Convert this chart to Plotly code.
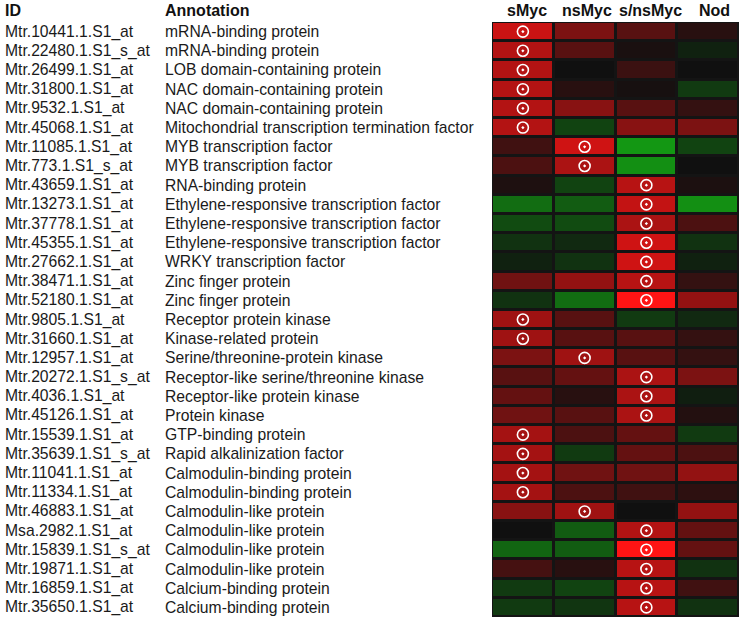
import plotly.graph_objects as go

ids = ["Mtr.10441.1.S1_at", "Mtr.22480.1.S1_s_at", "Mtr.26499.1.S1_at", "Mtr.31800.1.S1_at",
       "Mtr.9532.1.S1_at", "Mtr.45068.1.S1_at", "Mtr.11085.1.S1_at", "Mtr.773.1.S1_s_at",
       "Mtr.43659.1.S1_at", "Mtr.13273.1.S1_at", "Mtr.37778.1.S1_at", "Mtr.45355.1.S1_at",
       "Mtr.27662.1.S1_at", "Mtr.38471.1.S1_at", "Mtr.52180.1.S1_at", "Mtr.9805.1.S1_at",
       "Mtr.31660.1.S1_at", "Mtr.12957.1.S1_at", "Mtr.20272.1.S1_s_at", "Mtr.4036.1.S1_at",
       "Mtr.45126.1.S1_at", "Mtr.15539.1.S1_at", "Mtr.35639.1.S1_s_at", "Mtr.11041.1.S1_at",
       "Mtr.11334.1.S1_at", "Mtr.46883.1.S1_at", "Msa.2982.1.S1_at", "Mtr.15839.1.S1_s_at",
       "Mtr.19871.1.S1_at", "Mtr.16859.1.S1_at", "Mtr.35650.1.S1_at"]

annotations = ["mRNA-binding protein", "mRNA-binding protein", "LOB domain-containing protein",
               "NAC domain-containing protein", "NAC domain-containing protein",
               "Mitochondrial transcription termination factor", "MYB transcription factor",
               "MYB transcription factor", "RNA-binding protein",
               "Ethylene-responsive transcription factor", "Ethylene-responsive transcription factor",
               "Ethylene-responsive transcription factor", "WRKY transcription factor",
               "Zinc finger protein", "Zinc finger protein", "Receptor protein kinase",
               "Kinase-related protein", "Serine/threonine-protein kinase",
               "Receptor-like serine/threonine kinase", "Receptor-like protein kinase",
               "Protein kinase", "GTP-binding protein", "Rapid alkalinization factor",
               "Calmodulin-binding protein", "Calmodulin-binding protein", "Calmodulin-like protein",
               "Calmodulin-like protein", "Calmodulin-like protein", "Calmodulin-like protein",
               "Calcium-binding protein", "Calcium-binding protein"]

conditions = ["sMyc", "nsMyc", "s/nsMyc", "Nod"]

# relative expression (red = up, green = down)
smyc = [0.78, 0.68, 0.68, 0.68, 0.68, 0.68, 0.2, 0.25, 0.06, -0.55, -0.35, -0.2, -0.1, 0.4, -0.2,
        0.6, 0.6, 0.45, 0.3, 0.35, 0.4, 0.62, 0.62, 0.62, 0.62, 0.5, 0.0, -0.5, 0.22, -0.25, -0.25]
nsmyc = [0.45, 0.3, 0.0, 0.1, 0.5, -0.3, 0.8, 0.65, -0.3, -0.45, -0.35, -0.15, -0.2, 0.55, -0.55,
         0.3, 0.3, 0.6, 0.35, 0.1, 0.3, 0.25, -0.25, 0.4, 0.25, 0.6, -0.45, -0.45, 0.1, -0.3, -0.22]
snsmyc = [0.3, 0.04, 0.18, 0.03, 0.3, 0.5, -0.8, -0.75, 0.7, 0.75, 0.65, 0.8, 0.8, 0.7, 1.0,
          -0.25, 0.3, 0.3, 0.65, 0.65, 0.65, 0.35, 0.35, 0.4, 0.2, 0.0, 0.68, 1.0, 0.7, 0.7, 0.7]
nod = [0.1, -0.1, 0.0, -0.25, 0.15, 0.45, -0.3, 0.0, 0.05, -0.75, 0.25, -0.2, -0.1, 0.15, 0.55,
       -0.15, 0.15, 0.15, 0.45, -0.08, 0.08, -0.25, 0.25, 0.55, 0.12, 0.55, 0.35, 0.35, -0.2, 0.2, -0.2]

# significant cells: (row, column)
sig_rows = [0, 1, 2, 3, 4, 5, 6, 7, 8, 9, 10, 11, 12, 13, 14, 15, 16, 17, 18, 19, 20, 21, 22, 23,
            24, 25, 26, 27, 28, 29, 30]
sig_cols = [0, 0, 0, 0, 0, 0, 1, 1, 2, 2, 2, 2, 2, 2, 2, 0, 0, 1, 2, 2, 2, 0, 0, 0,
            0, 1, 2, 2, 2, 2, 2]

z = [[a, b, c, d] for a, b, c, d in zip(smyc, nsmyc, snsmyc, nod)]
n = len(ids)

fig = go.Figure()
fig.add_trace(go.Heatmap(
    z=z, x=list(range(4)), y=list(range(n)),
    zmin=-1, zmax=1,
    colorscale=[[0, "rgb(20,185,20)"], [0.5, "rgb(16,16,16)"], [1, "rgb(255,20,20)"]],
    showscale=False, xgap=3, ygap=3, hoverinfo="skip",
))
fig.add_trace(go.Scatter(
    x=sig_cols, y=sig_rows, mode="markers",
    marker=dict(symbol="circle-open-dot", size=11, color="white", line=dict(width=1.6, color="white")),
    hoverinfo="skip",
))

font = "Liberation Sans, Arial, sans-serif"
ann = []
for i in range(n):
    ann.append(dict(x=3 / 740, y=i, xref="paper", yref="y", text=ids[i], showarrow=False,
                    xanchor="left", font=dict(size=15.7, color="#1a1a1a", family=font)))
    ann.append(dict(x=163 / 740, y=i, xref="paper", yref="y", text=annotations[i], showarrow=False,
                    xanchor="left", font=dict(size=15.7, color="#1a1a1a", family=font)))
hy = 1 - 10 / 618
ann.append(dict(x=3 / 740, y=hy, xref="paper", yref="paper", text="<b>ID</b>", showarrow=False,
                xanchor="left", yanchor="middle", font=dict(size=16, color="#111", family=font)))
ann.append(dict(x=163 / 740, y=hy, xref="paper", yref="paper", text="<b>Annotation</b>", showarrow=False,
                xanchor="left", yanchor="middle", font=dict(size=16, color="#111", family=font)))
head_shift = [4, 2, 4, 6]
for j, c in enumerate(conditions):
    ann.append(dict(x=j, y=hy, xref="x", yref="paper", text="<b>" + c + "</b>", showarrow=False,
                    xanchor="center", yanchor="middle", xshift=head_shift[j],
                    font=dict(size=16, color="#111", family=font)))

fig.update_layout(
    width=740, height=618,
    margin=dict(l=0, r=0, t=0, b=0),
    paper_bgcolor="white", plot_bgcolor="#141414",
    showlegend=False,
    annotations=ann,
    xaxis=dict(domain=[492 / 740, 739 / 740], range=[-0.5, 3.5], showticklabels=False,
               showgrid=False, zeroline=False, fixedrange=True),
    yaxis=dict(domain=[1 / 618, 1 - 22 / 618], range=[n - 0.5, -0.5], showticklabels=False,
               showgrid=False, zeroline=False, fixedrange=True),
)

fig.write_html("out.html", config={"displayModeBar": False},
               post_script="document.body.style.margin='0';")
